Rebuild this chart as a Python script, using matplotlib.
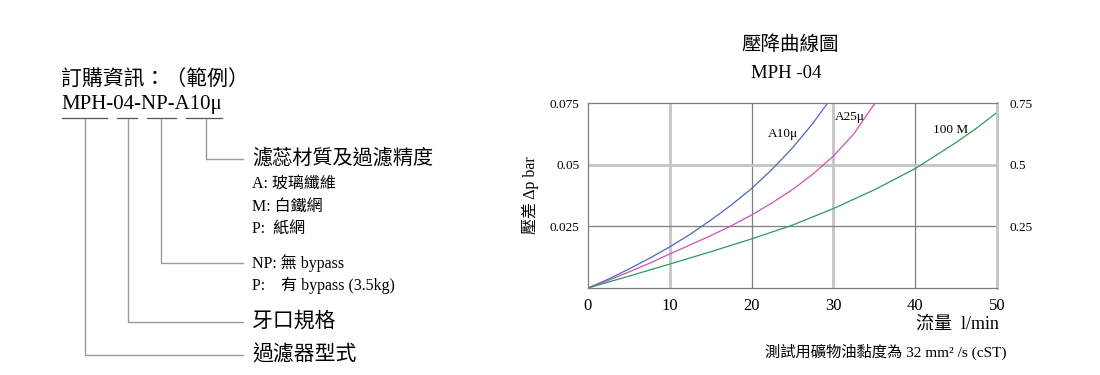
"""Pressure drop curve sheet for MPH-04 with the ordering code legend."""

import matplotlib

matplotlib.use("Agg")
import matplotlib.pyplot as plt

plt.rcParams["font.family"] = ["Liberation Serif", "Noto Sans CJK TC"]

# curve readings: flow (l/min) -> pressure drop (bar)
a10_flow = [0, 2.5, 5, 7.5, 10, 12.5, 15, 17.5, 20, 22.5, 25, 27.5, 29.3]
a10_dp = [0, 0.0036, 0.0077, 0.0120, 0.0167, 0.0218, 0.0275, 0.0336, 0.0403,
          0.0481, 0.0568, 0.0668, 0.075]
a25_flow = [0, 2.5, 5, 7.5, 10, 12.5, 15, 17.5, 20, 22.5, 25, 27.5, 30, 32.5, 35.1]
a25_dp = [0, 0.0031, 0.0065, 0.0100, 0.0138, 0.0175, 0.0212, 0.0252, 0.0296,
          0.0345, 0.0399, 0.0462, 0.0535, 0.0625, 0.075]
m100_flow = [0, 5, 10, 15, 20, 25, 30, 35, 40, 45, 47.5, 50]
m100_dp = [0, 0.0048, 0.0097, 0.0147, 0.0199, 0.0255, 0.0322, 0.0398, 0.0484,
           0.0590, 0.0648, 0.0712]

x_ticks = [0, 10, 20, 30, 40, 50]
y_ticks = [0.025, 0.05, 0.075]
y_tick_labels = ["0.025", "0.05", "0.075"]
y2_ticks = [0.25, 0.5, 0.75]
y2_tick_labels = ["0.25", "0.5", "0.75"]

DARK = "#7f7f7f"
LIGHT = "#c4c4c4"

fig = plt.figure(figsize=(11.0, 3.75), dpi=100)

# ---- left: ordering code schematic (pixel coords overlay)
ov = fig.add_axes([0, 0, 1, 1])
ov.set_xlim(0, 1100)
ov.set_ylim(375, 0)
ov.axis("off")

ov.text(61, 80, "訂購資訊：（範例）", fontsize=15, va="center", ha="left")
ov.text(61, 105, "MPH-04-NP-A10μ", fontsize=15, va="center", ha="left")
for x0, x1 in [(62, 107), (117, 137), (147, 176), (186, 222)]:
    ov.plot([x0, x1], [118, 118], color="#555555", lw=0.9)

branches = [(206, 159), (161, 263), (128, 322), (85, 355)]
for bx, by in branches:
    ov.plot([bx, bx, 243], [119, by, by], color="#9a9a9a", lw=1.0)

ov.text(252, 159, "濾蕊材質及過濾精度", fontsize=14.5, va="center")
ov.text(252, 184, "A: 玻璃纖維", fontsize=11.5, va="center")
ov.text(252, 207, "M: 白鐵網", fontsize=11.5, va="center")
ov.text(252, 229, "P:  紙網", fontsize=11.5, va="center")
ov.text(252, 263, "NP: 無 bypass", fontsize=11.5, va="center")
ov.text(252, 285, "P:    有 bypass (3.5kg)", fontsize=11.5, va="center")
ov.text(252, 322, "牙口規格", fontsize=15, va="center")
ov.text(252, 355, "過濾器型式", fontsize=15, va="center")

# ---- right: pressure drop chart
ax = fig.add_axes([588 / 1100, 87 / 375, 409 / 1100, 185 / 375])
ax.plot(a10_flow, a10_dp, color="#4a68c0", lw=0.9)
ax.plot(a25_flow, a25_dp, color="#cc52b8", lw=0.9)
ax.plot(m100_flow, m100_dp, color="#2e9a5c", lw=0.9)
ax.set_xlim(0, 50)
ax.set_ylim(0, 0.075)

for xv in [10, 30]:
    ax.axvline(xv, color=LIGHT, lw=2.0, zorder=0)
for xv in [20, 40]:
    ax.axvline(xv, color=DARK, lw=0.9, zorder=0)
ax.axhline(0.05, color=LIGHT, lw=2.0, zorder=0)
ax.axhline(0.025, color=DARK, lw=0.9, zorder=0)

for side in ["left", "top", "bottom"]:
    ax.spines[side].set_color(DARK)
    ax.spines[side].set_linewidth(0.9)
ax.spines["right"].set_color(LIGHT)
ax.spines["right"].set_linewidth(2.0)

ax.set_xticks(x_ticks)
ax.set_xticklabels([str(v) for v in x_ticks], fontsize=12)
ax.set_yticks(y_ticks)
ax.set_yticklabels(y_tick_labels, fontsize=9.5)
ax.tick_params(length=0, pad=6)
ax.tick_params(axis="x", pad=7)

ax2 = ax.twinx()
ax2.set_ylim(0, 0.75)
ax2.set_yticks(y2_ticks)
ax2.set_yticklabels(y2_tick_labels, fontsize=9.5)
ax2.tick_params(length=0, pad=9)
for side in ["left", "top", "bottom", "right"]:
    ax2.spines[side].set_visible(False)

ax.text(23.8, 0.0625, "A10μ", fontsize=9.5, ha="center", va="center")
ax.text(32.0, 0.0693, "A25μ", fontsize=9.5, ha="center", va="center")
ax.text(44.3, 0.0640, "100 M", fontsize=9.5, ha="center", va="center")

ax.set_ylabel("壓差 Δp bar", fontsize=11.5, labelpad=8)

ov.text(790, 45, "壓降曲線圖", fontsize=14, ha="center", va="center")
ov.text(786, 74, "MPH -04", fontsize=13.5, ha="center", va="center")
ov.text(957, 324, "流量  l/min", fontsize=13, ha="center", va="center")
ov.text(886, 352, "測試用礦物油黏度為 32 mm² /s (cST)", fontsize=11, ha="center", va="center")

fig.savefig("out.png", dpi=100)
